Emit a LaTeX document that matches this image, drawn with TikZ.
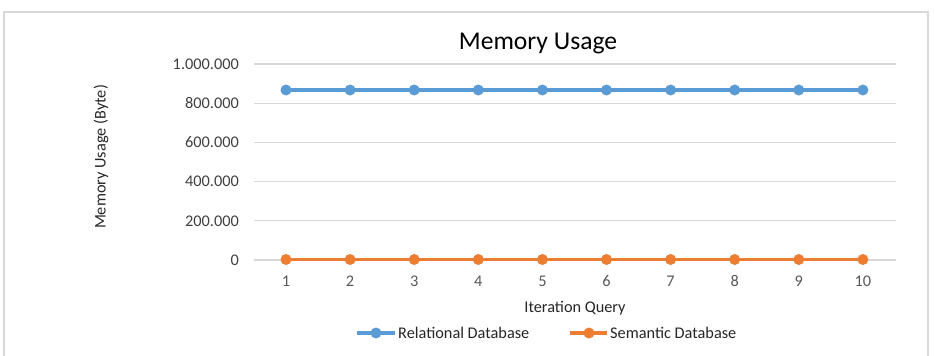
\documentclass[tikz,border=0pt]{standalone}
\usepackage{fontspec}
\setmainfont{Carlito}
\definecolor{relblue}{HTML}{5B9BD5}
\definecolor{semorange}{HTML}{ED7D31}
\definecolor{gridgray}{HTML}{D9D9D9}
\definecolor{ticktext}{HTML}{595959}
\definecolor{valtext}{HTML}{404040}
\definecolor{frame}{HTML}{D9D9D9}
\tikzset{
  gridline/.style={draw=gridgray, line width=1.3pt},
  ticklabel/.style={text=ticktext, font=\fontsize{16.3}{19}\selectfont, inner sep=0pt},
  axistitle/.style={text=black!85, font=\fontsize{16.3}{19}\selectfont, inner sep=0pt},
  serie/.style={line width=3.6pt, line cap=round},
  dot/.style={circle, fill=#1, minimum size=11pt, inner sep=0pt},
}
\begin{document}
\begin{tikzpicture}[x=1pt, y=-1pt]
\useasboundingbox (0,0) rectangle (935,356);
\fill[white] (0,0) rectangle (935,356);
% chart frame (bottom edge falls outside the page)
\draw[frame, line width=1.2pt] (4,362) -- (4,12) -- (928,12) -- (928,362);
% title
\node[font=\fontsize{25.6}{30}\selectfont, inner sep=0pt] (title) at (538,43) {Memory Usage};
% horizontal gridlines and value labels
\foreach \v/\lab [count=\k from 0] in {0/0,1/200.000,2/400.000,3/600.000,4/800.000,5/1.000.000}{
  \pgfmathsetmacro{\yy}{260-39.2*\v}
  \draw[gridline] (254,\yy) -- (896,\yy);
  \node[ticklabel, text=valtext, anchor=east] (ylab\k) at (239,\yy) {\lab};
}
% category labels and data points
\foreach \i in {1,...,10}{
  \pgfmathsetmacro{\xx}{286+64.1*(\i-1)}
  \node[ticklabel] (xlab\i) at (\xx,281) {\i};
  \coordinate (r\i) at (\xx,90);
  \coordinate (s\i) at (\xx,259.5);
}
% series lines
\draw[serie, relblue] (r1) \foreach \i in {2,...,10}{ -- (r\i)};
\draw[serie, semorange] (s1) \foreach \i in {2,...,10}{ -- (s\i)};
\foreach \i in {1,...,10}{
  \node[dot=relblue] (rd\i) at (r\i) {};
  \node[dot=semorange] (sd\i) at (s\i) {};
}
% axis titles
\node[axistitle] (xtitle) at (575,308) {Iteration Query};
\node[axistitle, rotate=90] (ytitle) at (101,157) {Memory Usage (Byte)};
% legend
\coordinate (la) at (357,333);
\coordinate (lb) at (395,333);
\draw[serie, relblue, line cap=butt] (la) -- (lb);
\node[dot=relblue] (lrd) at (376,333) {};
\node[axistitle, anchor=west] (lrt) at (398,333) {Relational Database};
\coordinate (lc) at (570,333);
\coordinate (ld) at (607,333);
\draw[serie, semorange, line cap=butt] (lc) -- (ld);
\node[dot=semorange] (lsd) at (589,333) {};
\node[axistitle, anchor=west] (lst) at (610,333) {Semantic Database};
\end{tikzpicture}
\end{document}
